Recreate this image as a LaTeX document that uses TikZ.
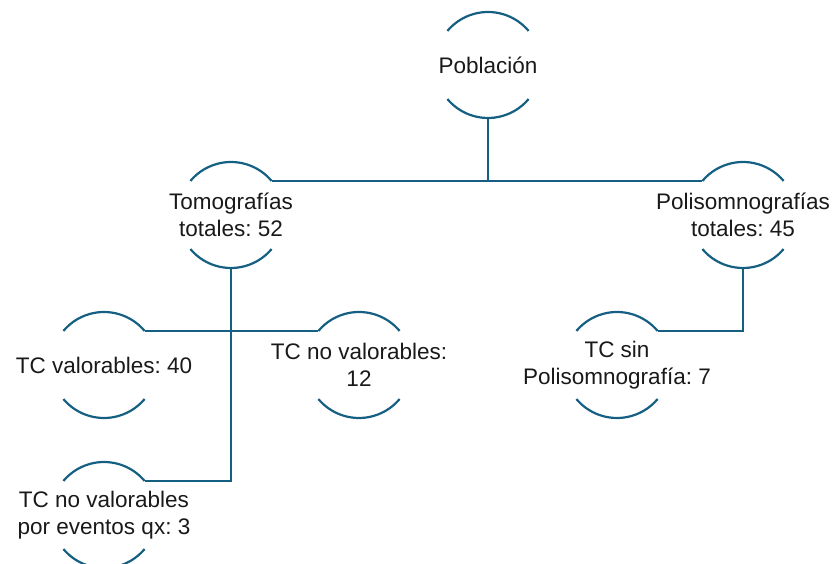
\documentclass[tikz,border=0pt]{standalone}
\usepackage{fontspec}
\setmainfont{Liberation Sans}
\frenchspacing
\definecolor{arcblue}{HTML}{156082}
\tikzset{
  rim/.style={arcblue,line width=2.2pt},
  link/.style={arcblue,line width=2.2pt},
  lbl/.style={align=center,text=black!90,font=\fontsize{22.5}{26.5}\selectfont}
}
\begin{document}
\begin{tikzpicture}[x=1pt,y=1pt]
      \useasboundingbox (0,0) rectangle (837,564);
      \def\rr{53}
      \node[lbl] (pob) at (488,499) {Población};
      \node[lbl] (tomo) at (231,349) {Tomografías\\totales: 52};
      \node[lbl] (poli) at (743,349) {Polisomnografías\\totales: 45};
      \node[lbl] (val) at (104,199) {TC valorables: 40};
      \node[lbl] (noval) at (359,199) {TC no valorables:\\12};
      \node[lbl] (sinps) at (617,199) {TC sin\\Polisomnografía: 7};
      \node[lbl] (qx) at (104,49) {TC no valorables\\por eventos qx: 3};
      % arcs above and below every box
      \foreach \n in {pob,tomo,poli,val,noval,sinps,qx}{
        \draw[rim] (\n.center) ++(40:\rr) coordinate (\n-ne) arc[start angle=40,end angle=140,radius=\rr] coordinate (\n-nw);
        \draw[rim] (\n.center) ++(220:\rr) coordinate (\n-sw) arc[start angle=220,end angle=320,radius=\rr] coordinate (\n-se);
        \path (\n.center) ++(0,-\rr) coordinate (\n-s);
      }
      \draw[link] (tomo-ne) -- (poli-nw);
      \draw[link] (pob-s) -- (pob-s |- tomo-ne);
      \draw[link] (val-ne) -- (noval-nw);
      \draw[link] (tomo-s) |- (qx-ne);
      \draw[link] (poli-s) |- (sinps-ne);
    \end{tikzpicture}
\end{document}
